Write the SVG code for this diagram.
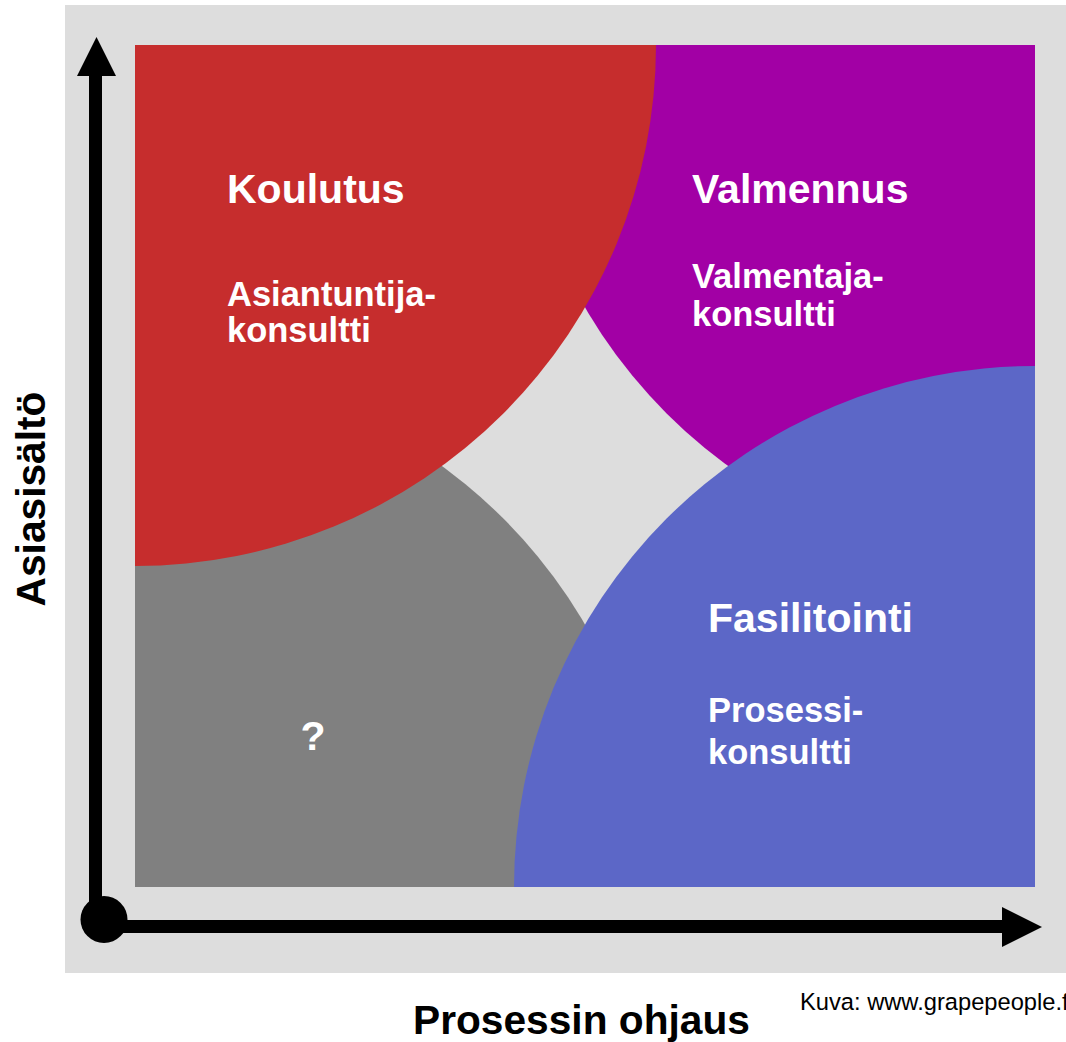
<svg xmlns="http://www.w3.org/2000/svg" width="1066" height="1042" viewBox="0 0 1066 1042">
  <style>
    .lbl { font-family: "Liberation Sans", Arial, sans-serif; font-weight: bold; fill: #ffffff; }
    .title { font-size: 41px; }
    .sub { font-size: 34.5px; }
    .axis-lbl { font-family: "Liberation Sans", Arial, sans-serif; font-weight: bold; font-size: 40.7px; fill: #000000; }
    .credit { font-family: "Liberation Sans", Arial, sans-serif; font-size: 23.7px; fill: #000000; }
    .axis { fill: #000000; }
  </style>
  <defs>
    <clipPath id="field">
      <rect x="135" y="45" width="900" height="842"/>
    </clipPath>
  </defs>

  <!-- backdrop panel -->
  <rect x="65" y="5" width="1001" height="968" fill="#dddddd"/>

  <!-- quadrant shapes: quarter circles anchored at the field corners -->
  <g clip-path="url(#field)">
    <g id="node-unknown">
      <circle cx="135" cy="887" r="521" fill="#808080"/>
    </g>
    <g id="node-valmennus">
      <circle cx="1035" cy="45" r="521" fill="#a200a5"/>
    </g>
    <g id="node-koulutus">
      <circle cx="135" cy="45" r="521" fill="#c62d2d"/>
    </g>
    <g id="node-fasilitointi">
      <circle cx="1035" cy="887" r="521" fill="#5c67c7"/>
    </g>
  </g>

  <!-- quadrant labels -->
  <g id="label-koulutus" class="lbl">
    <text class="title" x="227" y="203">Koulutus</text>
    <text class="sub" x="227" y="306">Asiantuntija-</text>
    <text class="sub" x="227" y="342">konsultti</text>
  </g>
  <g id="label-valmennus" class="lbl">
    <text class="title" x="692" y="203">Valmennus</text>
    <text class="sub" x="692" y="288">Valmentaja-</text>
    <text class="sub" x="692" y="326">konsultti</text>
  </g>
  <g id="label-fasilitointi" class="lbl">
    <text class="title" x="708" y="632">Fasilitointi</text>
    <text class="sub" x="708" y="722">Prosessi-</text>
    <text class="sub" x="708" y="764">konsultti</text>
  </g>
  <g id="label-unknown" class="lbl">
    <text class="title" x="313" y="750" text-anchor="middle">?</text>
  </g>

  <!-- axes -->
  <g id="connectors">
    <rect class="axis" x="89" y="74" width="13" height="846"/>
    <polygon class="axis" points="77,76 116,76 96.5,37"/>
    <rect class="axis" x="104" y="920" width="900" height="13"/>
    <polygon class="axis" points="1002,907 1002,947 1042,927"/>
    <circle class="axis" cx="104" cy="919.5" r="23.5"/>
  </g>

  <!-- axis titles and credit -->
  <text class="axis-lbl" transform="translate(45,499) rotate(-90)" text-anchor="middle">Asiasisältö</text>
  <text class="axis-lbl" x="413" y="1034">Prosessin ohjaus</text>
  <text class="credit" x="800" y="1010">Kuva: www.grapepeople.fi</text>
</svg>
